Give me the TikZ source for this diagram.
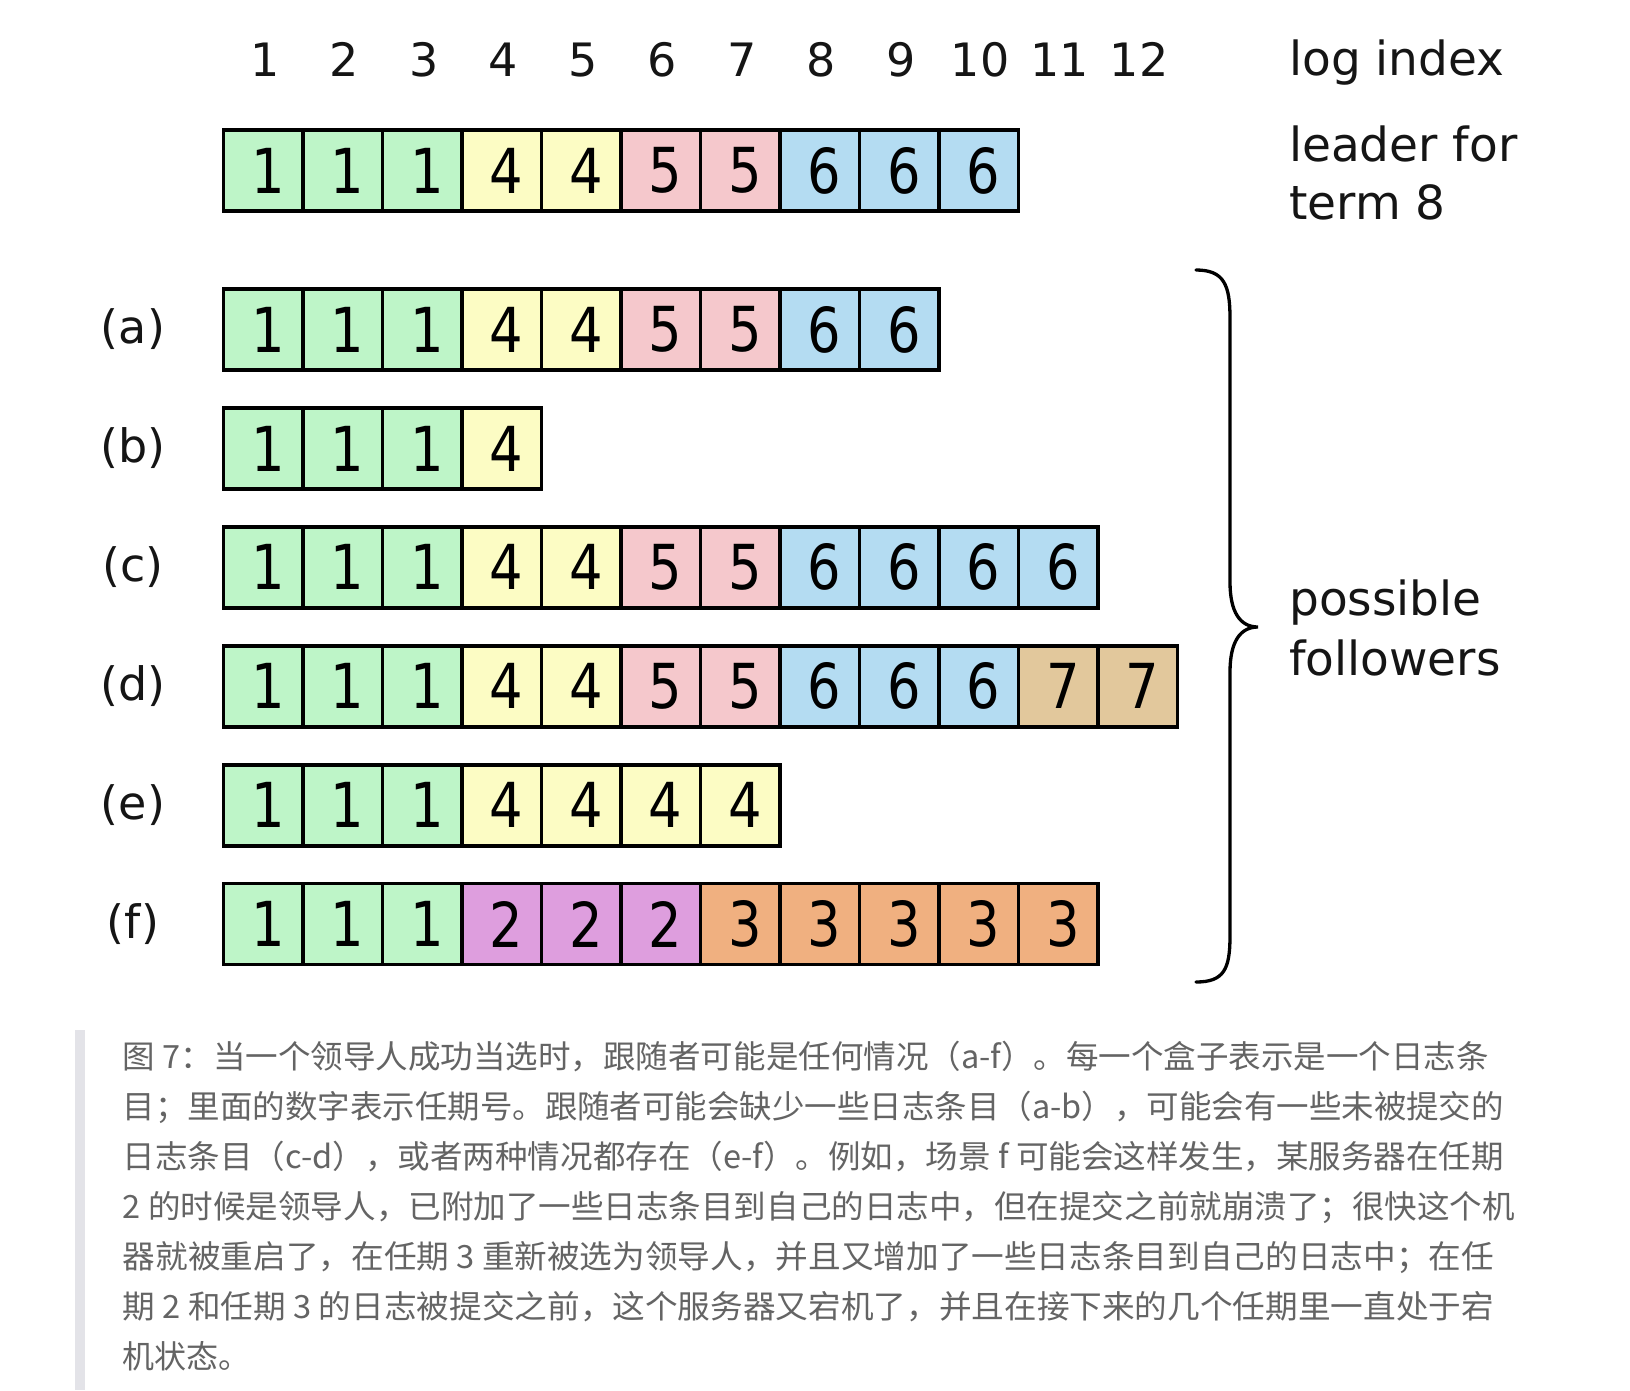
\documentclass[tikz,border=0pt]{standalone}
\usepackage{fontspec}
\usepackage{graphicx}
\setmainfont{DejaVu Sans}
\newfontfamily\cjk{Noto Sans CJK SC}
\definecolor{c1}{HTML}{BEF5C8}
\definecolor{c2}{HTML}{DE9EDE}
\definecolor{c3}{HTML}{F0B080}
\definecolor{c4}{HTML}{FCFCC4}
\definecolor{c5}{HTML}{F5C8CC}
\definecolor{c6}{HTML}{B4DCF2}
\definecolor{c7}{HTML}{E2C89C}
\definecolor{capgray}{HTML}{646464}
\definecolor{bargray}{HTML}{E3E3E8}
\definecolor{ink}{HTML}{151515}
\newcommand{\capline}[2]{\resizebox{#1pt}{\height}{#2}}
\begin{document}
\begin{tikzpicture}[x=1pt,y=-1pt,
  cell/.style={draw=black, line width=3.8pt, rectangle, inner sep=0pt,
    minimum width=79.5pt, minimum height=81pt,
    font=\fontsize{62}{62}\selectfont},
  idx/.style={anchor=base, text=ink, font=\fontsize{46}{46}\selectfont, inner sep=0pt},
  side/.style={anchor=base west, text=ink, font=\fontsize{47}{47}\selectfont, inner sep=0pt},
  rowlab/.style={text=ink, font=\fontsize{46}{46}\selectfont, inner sep=0pt},
  capt/.style={anchor=base west, text=capgray, font=\cjk\fontsize{32}{32}\selectfont, inner sep=0pt}]
\useasboundingbox (0,0) rectangle (1630,1390);
\fill[white] (0,0) rectangle (1630,1390);
% log index labels
\foreach \i in {1,...,12} {
  \node[idx] (idx-\i) at ({223.5+79.5*(\i-0.5)+1.5}, 76) {\i};
}
\node[side] (logindex) at (1289, 75) {log index};
\node[side] (leader1) at (1289, 161) {leader for};
\node[side] (leader2) at (1289, 219) {term 8};
% rows of cells
\foreach \name/\y/\terms in {
  L/170.5/{1,1,1,4,4,5,5,6,6,6},
  a/329.5/{1,1,1,4,4,5,5,6,6},
  b/448.4/{1,1,1,4},
  c/567.3/{1,1,1,4,4,5,5,6,6,6,6},
  d/686.2/{1,1,1,4,4,5,5,6,6,6,7,7},
  e/805.1/{1,1,1,4,4,4,4},
  f/924.0/{1,1,1,2,2,2,3,3,3,3,3}} {
  \foreach \t [count=\i] in \terms {
    \node[cell, fill=c\t] (\name-\i) at ({223.5+79.5*(\i-0.5)}, \y) {\hspace*{10pt}\scalebox{0.85}[1]{\t}};
  }
}
% row labels
\node[rowlab] (lab-a) at (133, 329.5) {(a)};
\node[rowlab] (lab-b) at (133, 448.4) {(b)};
\node[rowlab] (lab-c) at (133, 567.3) {(c)};
\node[rowlab] (lab-d) at (133, 686.2) {(d)};
\node[rowlab] (lab-e) at (133, 805.1) {(e)};
\node[rowlab] (lab-f) at (133, 924.0) {(f)};
% brace
\draw[line width=3.3pt, line cap=round]
  (1196,270) .. controls (1224,270) and (1230,285) .. (1230,318)
  -- (1230,582) .. controls (1230,612) and (1240,627) .. (1258,627)
  .. controls (1240,627) and (1230,642) .. (1230,672)
  -- (1230,936) .. controls (1230,969) and (1224,982) .. (1196,982);
\node[side] (poss1) at (1289, 615) {possible};
\node[side] (poss2) at (1289, 675) {followers};
% caption
\fill[bargray] (75,1030) rectangle (85,1390);
\node[capt] (cap1) at (122.7,1068) {\capline{1366}{图 7：当一个领导人成功当选时，跟随者可能是任何情况（a-f）。每一个盒子表示是一个日志条}};
\node[capt] (cap2) at (122.7,1118) {\capline{1381}{目；里面的数字表示任期号。跟随者可能会缺少一些日志条目（a-b），可能会有一些未被提交的}};
\node[capt] (cap3) at (122.7,1168) {\capline{1381}{日志条目（c-d），或者两种情况都存在（e-f）。例如，场景 f 可能会这样发生，某服务器在任期}};
\node[capt] (cap4) at (122.7,1218) {\capline{1392}{2 的时候是领导人，已附加了一些日志条目到自己的日志中，但在提交之前就崩溃了；很快这个机}};
\node[capt] (cap5) at (122.7,1268) {\capline{1371}{器就被重启了，在任期 3 重新被选为领导人，并且又增加了一些日志条目到自己的日志中；在任}};
\node[capt] (cap6) at (122.7,1318) {\capline{1371}{期 2 和任期 3 的日志被提交之前，这个服务器又宕机了，并且在接下来的几个任期里一直处于宕}};
\node[capt] (cap7) at (122.7,1368) {机状态。};
\end{tikzpicture}
\end{document}
